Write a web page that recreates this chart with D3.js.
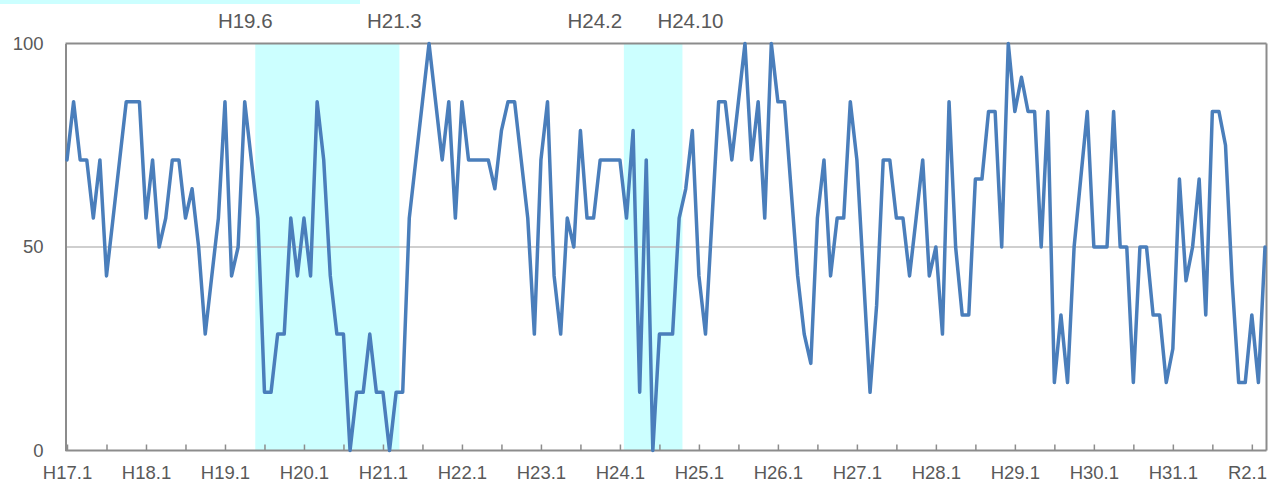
<!DOCTYPE html>
<html>
<head>
<meta charset="utf-8">
<script src="https://cdn.jsdelivr.net/npm/d3@7"></script>
<style>
  html, body { margin: 0; padding: 0; background: #ffffff; }
  svg { display: block; }
  text { font-family: "Liberation Sans", Arial, sans-serif; fill: #595959; }
</style>
</head>
<body>
<svg id="chart" width="1270" height="487"></svg>
<script>
// ---- data ----
const startYear = 2005;      // H17.1
const monthCount = 183;      // H17.1 .. R2.3
const values = [
  71.4, 85.7, 71.4, 71.4, 57.1, 71.4, 42.9, 57.1, 71.4, 85.7, 85.7, 85.7,
  57.1, 71.4, 50.0, 57.1, 71.4, 71.4, 57.1, 64.3, 50.0, 28.6, 42.9, 57.1,
  85.7, 42.9, 50.0, 85.7, 71.4, 57.1, 14.3, 14.3, 28.6, 28.6, 57.1, 42.9,
  57.1, 42.9, 85.7, 71.4, 42.9, 28.6, 28.6, 0.0, 14.3, 14.3, 28.6, 14.3,
  14.3, 0.0, 14.3, 14.3, 57.1, 71.4, 85.7, 100.0, 85.7, 71.4, 85.7, 57.1,
  85.7, 71.4, 71.4, 71.4, 71.4, 64.3, 78.6, 85.7, 85.7, 71.4, 57.1, 28.6,
  71.4, 85.7, 42.9, 28.6, 57.1, 50.0, 78.6, 57.1, 57.1, 71.4, 71.4, 71.4,
  71.4, 57.1, 78.6, 14.3, 71.4, 0.0, 28.6, 28.6, 28.6, 57.1, 64.3, 78.6,
  42.9, 28.6, 57.1, 85.7, 85.7, 71.4, 85.7, 100.0, 71.4, 85.7, 57.1, 100.0,
  85.7, 85.7, 64.3, 42.9, 28.6, 21.4, 57.1, 71.4, 42.9, 57.1, 57.1, 85.7,
  71.4, 42.9, 14.3, 35.7, 71.4, 71.4, 57.1, 57.1, 42.9, 57.1, 71.4, 42.9,
  50.0, 28.6, 85.7, 50.0, 33.3, 33.3, 66.7, 66.7, 83.3, 83.3, 50.0, 100.0,
  83.3, 91.7, 83.3, 83.3, 50.0, 83.3, 16.7, 33.3, 16.7, 50.0, 66.7, 83.3,
  50.0, 50.0, 50.0, 83.3, 50.0, 50.0, 16.7, 50.0, 50.0, 33.3, 33.3, 16.7,
  25.0, 66.7, 41.7, 50.0, 66.7, 33.3, 83.3, 83.3, 75.0, 41.7, 16.7, 16.7,
  33.3, 16.7, 50.0
];
const xTickLabels = ["H17.1","H18.1","H19.1","H20.1","H21.1","H22.1","H23.1","H24.1",
                     "H25.1","H26.1","H27.1","H28.1","H29.1","H30.1","H31.1","R2.1"];
const yTickValues = [0, 50, 100];
const bandStarts = ["H19.6", "H24.2"];
const bandEnds   = ["H21.3", "H24.10"];
const bandLabels = ["H19.6", "H21.3", "H24.2", "H24.10"];

// month categories (Heisei until H31.4, Reiwa from R1.5)
const months = d3.range(monthCount).map(i => {
  const y = startYear + Math.floor(i / 12), m = i % 12 + 1;
  const reiwa = (y > 2019) || (y === 2019 && m >= 5);
  return reiwa ? `R${y - 2018}.${m}` : `H${y - 1988}.${m}`;
});

// ---- layout ----
const plot = { left: 65.5, right: 1266.5, top: 43.5, bottom: 450.5 };
const svg = d3.select("#chart");

const x = d3.scalePoint().domain(months).range([67, 1265]);
const step = x.step();
const y = d3.scaleLinear().domain([0, 100]).range([plot.bottom, plot.top]);

// stray cyan strip at top-left of the reference
svg.append("rect").attr("x", 0).attr("y", 0).attr("width", 360).attr("height", 4)
  .attr("fill", "#ccffff");

// shaded periods
const bands = bandStarts.map((s, i) => ({ s, e: bandEnds[i] }));
svg.append("g").selectAll("rect").data(bands).join("rect")
  .attr("x", d => x(d.s) - 0.4 * step)
  .attr("width", d => (x(d.e) + 0.5 * step) - (x(d.s) - 0.4 * step))
  .attr("y", plot.top)
  .attr("height", plot.bottom - plot.top)
  .attr("fill", "#ccffff");

// band labels on top
const labelShift = [-10, -5, -29, 8];
const labelX = [
  x(bandStarts[0]) - 0.4 * step, x(bandEnds[0]) + 0.5 * step,
  x(bandStarts[1]) - 0.4 * step, x(bandEnds[1]) + 0.5 * step
];
svg.append("g").selectAll("text").data(bandLabels).join("text")
  .attr("x", (d, i) => labelX[i] + labelShift[i])
  .attr("y", 28)
  .attr("text-anchor", "middle")
  .attr("font-size", 20.5)
  .text(d => d);

// gridline at 50
svg.append("line")
  .attr("x1", plot.left).attr("x2", plot.right)
  .attr("y1", y(50)).attr("y2", y(50))
  .attr("stroke", "#bfbfbf").attr("stroke-width", 1.5);

// frame (top & right)
svg.append("line").attr("x1", plot.left).attr("x2", plot.right)
  .attr("y1", plot.top).attr("y2", plot.top)
  .attr("stroke", "#8c8c8c").attr("stroke-width", 2);
svg.append("line").attr("x1", plot.right).attr("x2", plot.right)
  .attr("y1", plot.top).attr("y2", plot.bottom)
  .attr("stroke", "#8c8c8c").attr("stroke-width", 2);

// y axis
const yAxis = d3.axisLeft(y).tickValues(yTickValues).tickSize(0).tickPadding(22)
  .tickFormat(d3.format("d"));
const gy = svg.append("g").attr("transform", `translate(${plot.left},0)`).call(yAxis);
gy.select(".domain").attr("stroke", "#8c8c8c").attr("stroke-width", 2);
gy.selectAll("text").attr("font-size", 18.5).attr("fill", "#595959")
  .style("font-family", "'Liberation Sans', Arial, sans-serif");

// x axis
const tickMonths = months.filter((m, i) => i % 6 === 0);
const xAxis = d3.axisBottom(x).tickValues(tickMonths).tickSizeInner(-6).tickSizeOuter(0)
  .tickPadding(15)
  .tickFormat(d => xTickLabels.includes(d) ? d : "");
const gx = svg.append("g").attr("transform", `translate(0,${plot.bottom})`).call(xAxis);
gx.select(".domain").attr("d", `M${plot.left},0H${plot.right}`)
  .attr("stroke", "#8c8c8c").attr("stroke-width", 2);
gx.selectAll(".tick line").attr("stroke", "#8c8c8c").attr("stroke-width", 1.5);
gx.selectAll("text").attr("font-size", 18.5).attr("fill", "#595959")
  .style("font-family", "'Liberation Sans', Arial, sans-serif");
// keep the last label inside the picture
gx.selectAll(".tick").each(function () {
  const t = d3.select(this).select("text");
  const node = t.node();
  if (!node || !node.textContent) return;
  const bb = node.getBBox();
  const tr = this.transform.baseVal.consolidate();
  const tx = tr ? tr.matrix.e : 0;
  const over = tx + bb.x + bb.width - 1267;
  if (over > 0) t.attr("x", -over);
});

// series line
const line = d3.line().x((d, i) => x(months[i])).y(d => y(d));
svg.append("path").datum(values)
  .attr("d", line)
  .attr("fill", "none")
  .attr("stroke", "#4a7ebb")
  .attr("stroke-width", 3.5)
  .attr("stroke-linejoin", "round")
  .attr("stroke-linecap", "round");
</script>
</body>
</html>
